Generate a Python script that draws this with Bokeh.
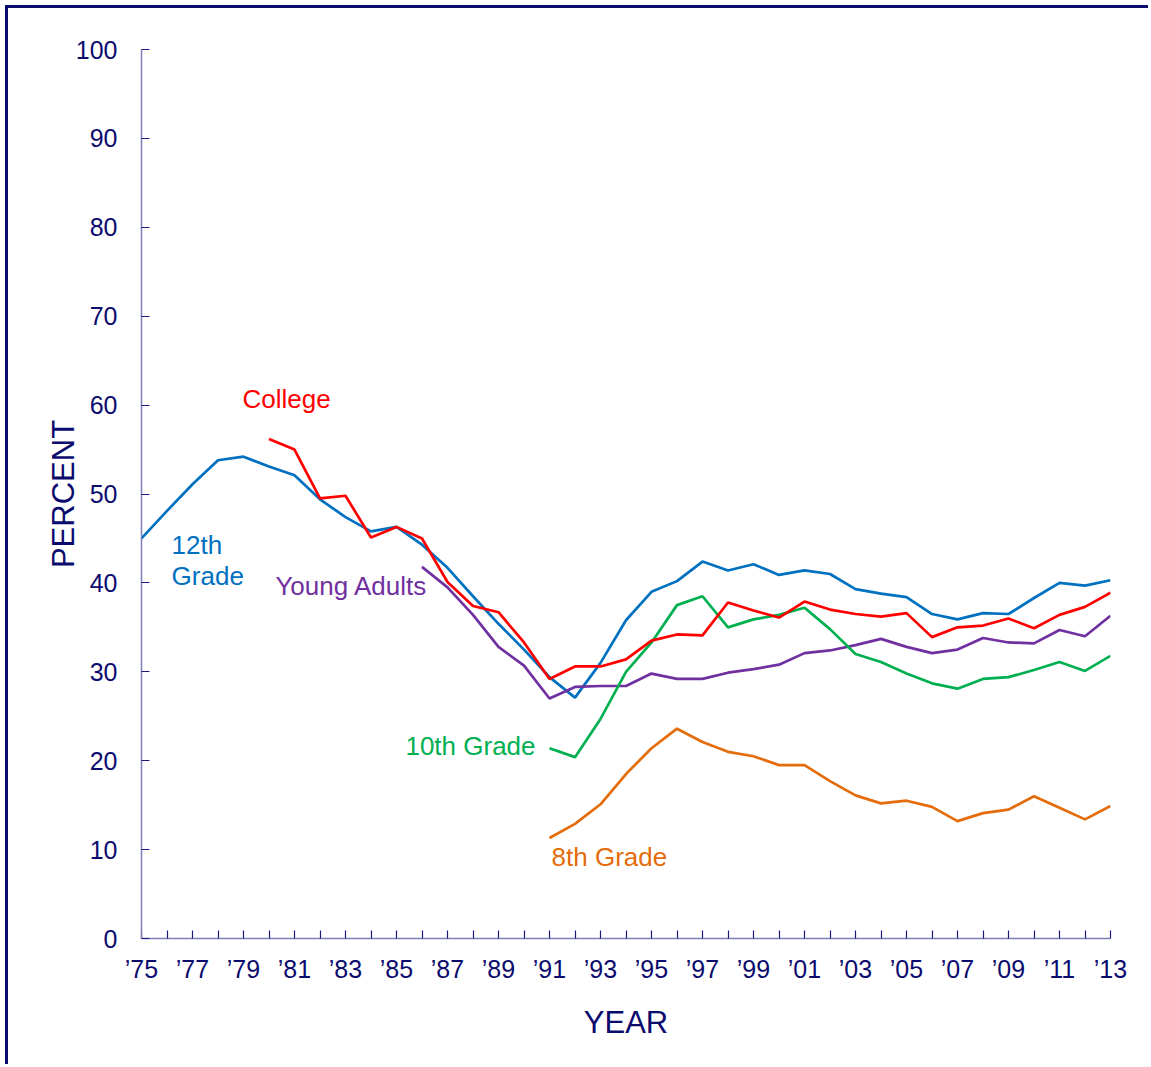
from bokeh.plotting import figure
from bokeh.models import FixedTicker, Label
from bokeh.embed import file_html
from bokeh.resources import INLINE

# ---------------- data ----------------
years_12 = list(range(1975, 2014))
grade12 = [45.0, 48.1, 51.1, 53.8, 54.2, 53.1, 52.1, 49.4, 47.4, 45.8, 46.3, 44.3,
           41.7, 38.5, 35.4, 32.5, 29.4, 27.1, 31.0, 35.8, 39.0, 40.2, 42.4, 41.4,
           42.1, 40.9, 41.4, 41.0, 39.3, 38.8, 38.4, 36.5, 35.9, 36.6, 36.5, 38.3,
           40.0, 39.7, 40.3]

years_college = list(range(1980, 2014))
college = [56.2, 55.0, 49.5, 49.8, 45.1, 46.3, 45.0, 40.1, 37.4, 36.7, 33.3, 29.2,
           30.6, 30.6, 31.4, 33.5, 34.2, 34.1, 37.8, 36.9, 36.1, 37.9, 37.0, 36.5,
           36.2, 36.6, 33.9, 35.0, 35.2, 36.0, 34.9, 36.4, 37.3, 38.9]

years_ya = list(range(1986, 2014))
young_adults = [41.8, 39.5, 36.4, 32.8, 30.7, 27.0, 28.3, 28.4, 28.4, 29.8, 29.2,
                29.2, 29.9, 30.3, 30.8, 32.1, 32.4, 33.0, 33.7, 32.8, 32.1, 32.5,
                33.8, 33.3, 33.2, 34.7, 34.0, 36.3]

years_8_10 = list(range(1991, 2014))
grade10 = [21.4, 20.4, 24.7, 30.0, 33.3, 37.5, 38.5, 35.0, 35.9, 36.4, 37.2, 34.8,
           32.0, 31.1, 29.8, 28.7, 28.1, 29.2, 29.4, 30.2, 31.1, 30.1, 31.8]
grade8 = [11.3, 12.9, 15.1, 18.5, 21.4, 23.6, 22.1, 21.0, 20.5, 19.5, 19.5, 17.7,
          16.1, 15.2, 15.5, 14.8, 13.2, 14.1, 14.5, 16.0, 14.7, 13.4, 14.9]

x_label_years = list(range(1975, 2014, 2))
x_tick_labels = ["\u2019" + str(y)[2:] for y in x_label_years]
y_ticks = list(range(0, 101, 10))

# ---------------- style ----------------
NAVY = "#0b0b6e"
FONT = "Liberation Sans"
C12, CCOL, CYA, C10, C8 = "#0070C0", "#FF0000", "#7030A0", "#00B050", "#E46C0A"

p = figure(width=1143, height=1059, output_backend="svg", toolbar_location=None,
           x_range=(1975, 2013), y_range=(0, 100),
           min_border_left=133, min_border_right=41, min_border_top=41,
           min_border_bottom=129, background_fill_color="white",
           border_fill_color="white")
p.outline_line_color = None
p.grid.visible = False
p.styles = {"margin-left": "8px", "margin-top": "8px",
            "box-shadow": "-3px -3px 0 0 " + NAVY}

# axes
for ax in (p.xaxis[0], p.yaxis[0]):
    ax.axis_line_color = "#7f7fb5"
    ax.axis_line_width = 1.5
    ax.major_tick_line_color = "#1a1a80"
    ax.minor_tick_line_color = "#1a1a80"
    ax.major_tick_line_width = 1.2
    ax.minor_tick_line_width = 1.2
    ax.major_tick_in = 8
    ax.major_tick_out = 0
    ax.minor_tick_in = 8
    ax.minor_tick_out = 0
    ax.major_label_text_color = NAVY
    ax.major_label_text_font = FONT
    ax.major_label_text_font_size = "25px"
    ax.axis_label_text_color = NAVY
    ax.axis_label_text_font = FONT
    ax.axis_label_text_font_size = "31px"
    ax.axis_label_text_font_style = "normal"

p.xaxis.ticker = FixedTicker(ticks=x_label_years,
                             minor_ticks=list(range(1976, 2013, 2)))
p.xaxis.major_label_overrides = {y: t for y, t in zip(x_label_years, x_tick_labels)}
p.xaxis.major_label_standoff = 16
p.xaxis.axis_label = "YEAR"
p.xaxis.axis_label_standoff = 19

p.yaxis.ticker = FixedTicker(ticks=y_ticks, minor_ticks=[])
p.yaxis.major_label_standoff = 24
p.yaxis.axis_label = "PERCENT"
p.yaxis.axis_label_standoff = -8

# lines
LW = 2.7
p.line(years_12, grade12, line_color=C12, line_width=LW)
p.line(years_ya, young_adults, line_color=CYA, line_width=LW)
p.line(years_8_10, grade10, line_color=C10, line_width=LW)
p.line(years_8_10, grade8, line_color=C8, line_width=LW)
p.line(years_college, college, line_color=CCOL, line_width=LW)

# series labels
def lab(text, x, y, color):
    p.add_layout(Label(x=x, y=y, text=text, text_color=color, text_font=FONT,
                       text_font_size="26px", text_baseline="middle",
                       text_align="left"))

lab("College", 1978.96, 60.7, CCOL)
lab("12th", 1976.18, 44.3, C12)
lab("Grade", 1976.18, 40.8, C12)
lab("Young Adults", 1980.25, 39.7, CYA)
lab("10th Grade", 1985.35, 21.7, C10)
lab("8th Grade", 1991.08, 9.2, C8)

open("out.html", "w").write(file_html(p, INLINE))
